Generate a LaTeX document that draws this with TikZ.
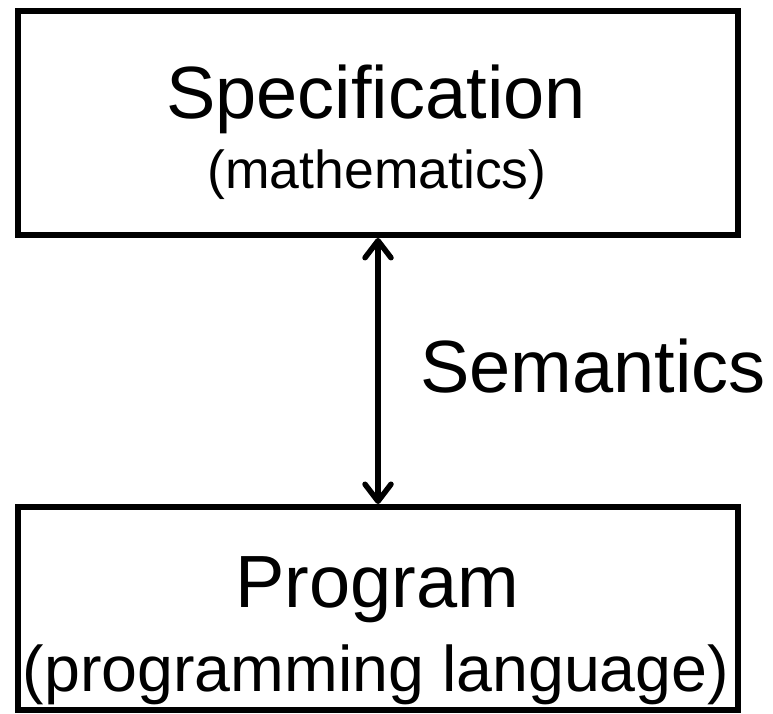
\documentclass[tikz,border=0pt]{standalone}
\usepackage{fontspec}
\setmainfont{Liberation Sans}
\usetikzlibrary{arrows.meta}
\begin{document}
\begin{tikzpicture}[x=1pt,y=1pt,
  box/.style={draw=black, line width=6pt, rectangle, inner sep=0pt, outer sep=0pt},
  txt/.style={anchor=base, inner sep=0pt, outer sep=0pt},
  tipv/.tip={Straight Barb[length=17pt,width=26pt,line cap=round,line join=round]},
  link/.style={line width=5.5pt, tipv-tipv}
]
\useasboundingbox (0,0) rectangle (773,714);
\node[box, minimum width=720pt, minimum height=224pt] (spec) at (378,591) {};
\node[box, minimum width=720pt, minimum height=203pt] (prog) at (378,105.5) {};
\node[txt] (specT) at (376,595) {\fontsize{74}{80}\selectfont Specification};
\node[txt] (specS) at (377,525) {\fontsize{53.5}{60}\selectfont (mathematics)};
\node[txt] (progT) at (377,106) {\fontsize{74}{80}\selectfont Program};
\node[txt] (progS) at (376,22) {\fontsize{64.5}{70}\selectfont (programming language)};
\draw[link, shorten <=3pt, shorten >=3pt] (spec.south) -- (prog.north);
\node[txt] (sem) at (593,321) {\fontsize{74}{80}\selectfont Semantics};
\end{tikzpicture}
\end{document}
